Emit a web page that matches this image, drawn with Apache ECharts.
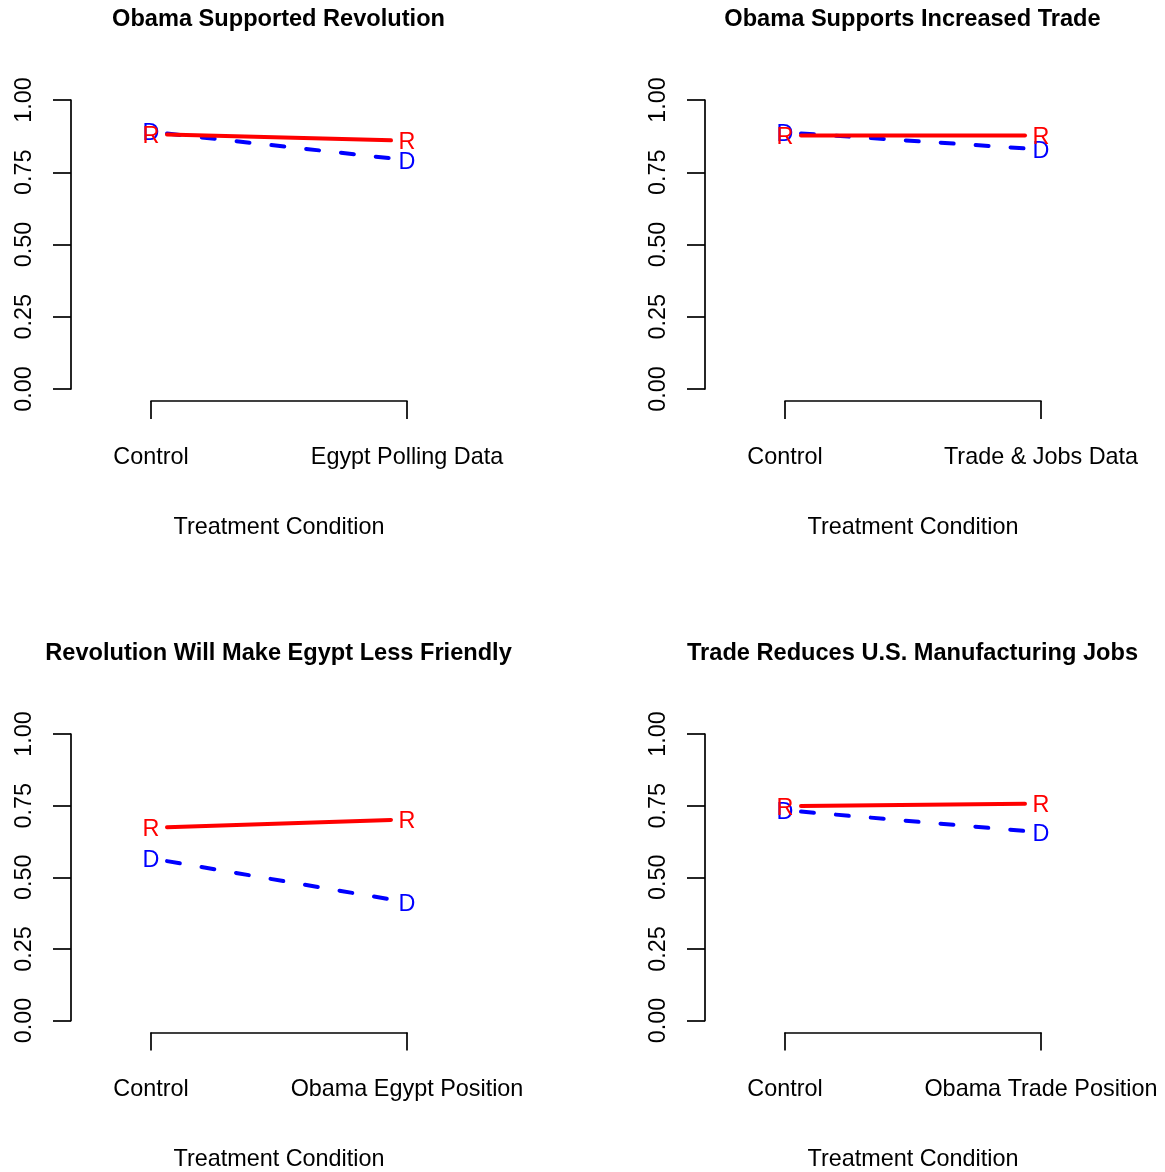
<!DOCTYPE html>
<html><head><meta charset="utf-8">
<script src="https://cdn.jsdelivr.net/npm/echarts@6/dist/echarts.min.js"></script>
<style>html,body{margin:0;padding:0;background:#fff}#c{width:1165px;height:1172px}</style>
</head><body><div id="c"></div>
<script>
// ---- data ----
const panelTitles = ['Obama Supported Revolution', 'Obama Supports Increased Trade',
  'Revolution Will Make Egypt Less Friendly', 'Trade Reduces U.S. Manufacturing Jobs'];
const controlLabel = 'Control';
const treatmentLabels = ['Egypt Polling Data', 'Trade & Jobs Data', 'Obama Egypt Position', 'Obama Trade Position'];
const xAxisTitle = 'Treatment Condition';
const yTicks = [0, 0.25, 0.5, 0.75, 1];
const repValues = [[0.882, 0.859], [0.877, 0.877], [0.673, 0.702], [0.748, 0.757]];
const demValues = [[0.890, 0.792], [0.888, 0.829], [0.566, 0.413], [0.734, 0.657]];
const repMark = 'R';
const demMark = 'D';

// ---- layout ----
const FONT = 'Liberation Sans, Arial, Helvetica, sans-serif';
const FS = 23.4;
const plotLeft = [151, 785, 151, 785];
const plotTop = [100, 100, 734, 734];
const plotW = 256, plotH = 289;
const GAP = 0.0625; // gap around the letter marks (type = "b")

function shortened(vals) {
  const y0 = vals[0], y1 = vals[1];
  return [[1 + GAP, y0 + (y1 - y0) * GAP], [2 - GAP, y1 - (y1 - y0) * GAP]];
}

const grids = [], xAxes = [], yAxes = [], series = [], titles = [];
for (let i = 0; i < 4; i++) {
  grids.push({left: plotLeft[i], top: plotTop[i], width: plotW, height: plotH, containLabel: false});
  const xLabels = [controlLabel, treatmentLabels[i]];
  xAxes.push({
    gridIndex: i, type: 'value', min: 1, max: 2, interval: 1, offset: 12,
    position: 'bottom',
    axisLine: {show: true, onZero: false, lineStyle: {color: '#000', width: 1.7}},
    axisTick: {show: true, length: 18, lineStyle: {color: '#000', width: 1.7}},
    axisLabel: {show: true, margin: 45, color: '#000', fontFamily: FONT, fontSize: FS, lineHeight: FS,
      formatter: v => xLabels[Math.round(v) - 1] || ''},
    splitLine: {show: false},
    name: xAxisTitle, nameLocation: 'middle', nameGap: 115,
    nameTextStyle: {color: '#000', fontFamily: FONT, fontSize: FS, lineHeight: FS}
  });
  yAxes.push({
    gridIndex: i, type: 'value', min: yTicks[0], max: yTicks[yTicks.length - 1], interval: 0.25, offset: 80,
    position: 'left',
    axisLine: {show: true, onZero: false, lineStyle: {color: '#000', width: 1.7}},
    axisTick: {show: true, length: 18, lineStyle: {color: '#000', width: 1.7}},
    axisLabel: {show: true, rotate: 90, margin: 35, color: '#000', fontFamily: FONT, fontSize: FS, lineHeight: FS,
      formatter: v => v.toFixed(2)},
    splitLine: {show: false}
  });
  titles.push({
    text: panelTitles[i], left: plotLeft[i] + plotW / 2 - 0.5, top: plotTop[i] - 92, textAlign: 'center', padding: 0,
    textStyle: {fontFamily: FONT, fontSize: 23.6, fontWeight: 'bold', color: '#000', lineHeight: 23.6}
  });
  // Democrats (blue dashed)
  series.push({
    type: 'line', xAxisIndex: i, yAxisIndex: i, data: shortened(demValues[i]), symbol: 'none', z: 2,
    lineStyle: {color: '#0000FF', width: 4, type: [13, 22], cap: 'round'}, silent: true, animation: false
  });
  series.push({
    type: 'scatter', xAxisIndex: i, yAxisIndex: i, data: [[1, demValues[i][0]], [2, demValues[i][1]]],
    symbolSize: 1, itemStyle: {color: 'rgba(0,0,0,0)', opacity: 1}, z: 3, animation: false, silent: true,
    label: {show: true, position: 'inside', offset: [0, 2], formatter: demMark, color: '#0000FF', opacity: 1,
      fontFamily: FONT, fontSize: FS, verticalAlign: 'middle', align: 'center'}
  });
  // Republicans (red solid)
  series.push({
    type: 'line', xAxisIndex: i, yAxisIndex: i, data: shortened(repValues[i]), symbol: 'none', z: 4,
    lineStyle: {color: '#FF0000', width: 4, cap: 'round'}, silent: true, animation: false
  });
  series.push({
    type: 'scatter', xAxisIndex: i, yAxisIndex: i, data: [[1, repValues[i][0]], [2, repValues[i][1]]],
    symbolSize: 1, itemStyle: {color: 'rgba(0,0,0,0)', opacity: 1}, z: 5, animation: false, silent: true,
    label: {show: true, position: 'inside', offset: [0, 2], formatter: repMark, color: '#FF0000', opacity: 1,
      fontFamily: FONT, fontSize: FS, verticalAlign: 'middle', align: 'center'}
  });
}

const chart = echarts.init(document.getElementById('c'), null, {renderer: 'canvas'});
chart.setOption({
  backgroundColor: '#fff', animation: false,
  title: titles, grid: grids, xAxis: xAxes, yAxis: yAxes, series: series
});
</script>
</body></html>
